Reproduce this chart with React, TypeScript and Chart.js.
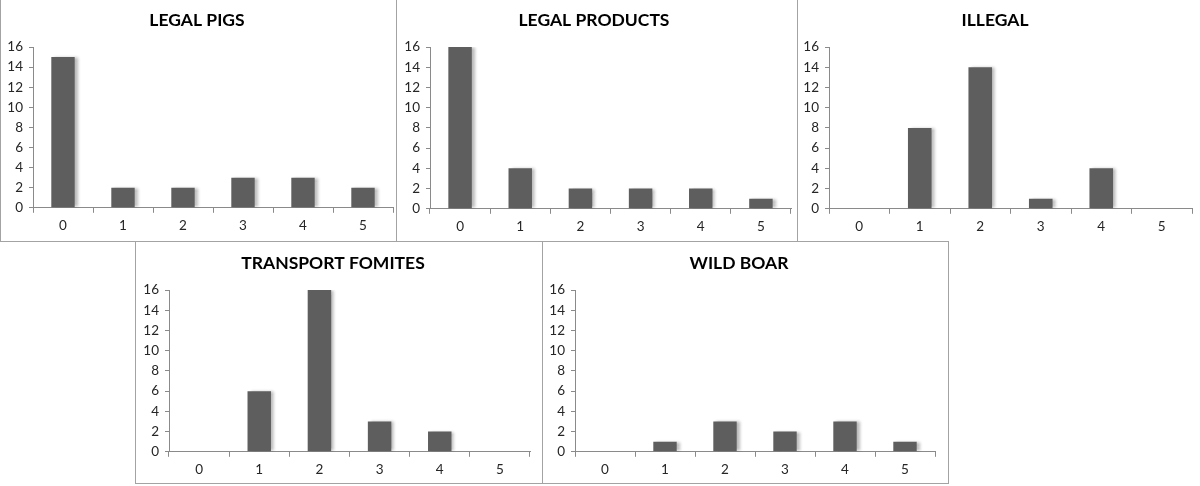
import React, { useEffect, useRef } from "react";
import { Chart, registerables } from "chart.js";

Chart.register(...registerables);

// ---- data ----
const categories = ["0", "1", "2", "3", "4", "5"];
const legalPigs = [15, 2, 2, 3, 3, 2];
const legalProducts = [16, 4, 2, 2, 2, 1];
const illegal = [0, 8, 14, 1, 4, 0];
const transportFomites = [0, 6, 16, 3, 2, 0];
const wildBoar = [0, 1, 3, 2, 3, 1];
const yMin = 0;
const yMax = 16;
const yStep = 2;

const titles = ["LEGAL PIGS", "LEGAL PRODUCTS", "ILLEGAL", "TRANSPORT FOMITES", "WILD BOAR"];
const series = [legalPigs, legalProducts, illegal, transportFomites, wildBoar];

// ---- layout (page pixel boxes) ----
type Box = {
  left: number; top: number; width: number; height: number;
  bl: boolean; br: boolean; bt: boolean; bb: boolean;
  yWidth: number; padRight: number; padBottom: number; titleTop: number;
};
const boxes: Box[] = [
  { left: 0, top: 0, width: 397, height: 242, bl: true, br: true, bt: false, bb: true, yWidth: 32, padRight: 3, padBottom: 2, titleTop: 10 },
  { left: 396, top: 0, width: 402, height: 242, bl: true, br: true, bt: false, bb: false, yWidth: 33, padRight: 6, padBottom: 2, titleTop: 10 },
  { left: 797, top: 0, width: 404, height: 242, bl: true, br: false, bt: false, bb: false, yWidth: 31, padRight: 9, padBottom: 2, titleTop: 10 },
  { left: 135, top: 241, width: 408, height: 243, bl: true, br: true, bt: true, bb: true, yWidth: 33, padRight: 12, padBottom: 0, titleTop: 11 },
  { left: 542, top: 241, width: 407, height: 243, bl: true, br: true, bt: true, bb: true, yWidth: 32, padRight: 13, padBottom: 0, titleTop: 11 },
];

const BORDER = "#a3a3a3";
const AXIS = "#8a8a8a";
const BAR = "#5e5e5e";
const FONT = "Lato, 'Open Sans', sans-serif";

const shadowPlugin = {
  id: "barShadow",
  beforeDatasetsDraw(chart: any) {
    const ctx = chart.ctx;
    ctx.save();
    ctx.shadowColor = "rgba(0,0,0,0.28)";
    ctx.shadowBlur = 3;
    ctx.shadowOffsetX = 3;
    ctx.shadowOffsetY = 0;
  },
  afterDatasetsDraw(chart: any) {
    chart.ctx.restore();
  },
};

function Panel({ idx }: { idx: number }) {
  const ref = useRef<HTMLCanvasElement | null>(null);
  const b = boxes[idx];
  const cw = b.width - (b.bl ? 1 : 0) - (b.br ? 1 : 0);
  const ch = b.height - (b.bt ? 1 : 0) - (b.bb ? 1 : 0);

  useEffect(() => {
    if (!ref.current) return;
    const tickFont = { family: FONT, size: 13.5 };
    const chart = new Chart(ref.current, {
      type: "bar",
      data: {
        labels: categories,
        datasets: [
          {
            data: series[idx],
            backgroundColor: BAR,
            borderWidth: 0,
            categoryPercentage: 1,
            barPercentage: 0.39,
          },
        ],
      },
      options: {
        responsive: false,
        maintainAspectRatio: false,
        animation: false,
        layout: { padding: { left: 0, right: b.padRight, top: 0, bottom: b.padBottom } },
        plugins: {
          legend: { display: false },
          tooltip: { enabled: false },
          title: {
            display: true,
            text: titles[idx],
            color: "#000",
            font: { family: FONT, size: 17.5, weight: "bold" },
            padding: { top: b.titleTop, bottom: 16 },
          },
        },
        scales: {
          x: {
            grid: { display: true, drawOnChartArea: false, drawTicks: true, tickLength: 5, color: AXIS, offset: true },
            border: { display: true, color: AXIS },
            ticks: { font: tickFont, color: "#262626", padding: 5, maxRotation: 0 },
          },
          y: {
            min: yMin,
            max: yMax,
            grid: { display: true, drawOnChartArea: false, drawTicks: true, tickLength: 4, color: AXIS },
            border: { display: true, color: AXIS },
            ticks: { stepSize: yStep, font: tickFont, color: "#262626", padding: 6 },
            afterFit: (s: any) => {
              s.width = b.yWidth;
            },
          },
        },
      },
      plugins: [shadowPlugin],
    } as any);
    return () => chart.destroy();
  }, [idx]);

  return (
    <div
      style={{
        position: "absolute",
        left: b.left,
        top: b.top,
        width: b.width,
        height: b.height,
        boxSizing: "border-box",
        borderLeft: b.bl ? `1px solid ${BORDER}` : "none",
        borderRight: b.br ? `1px solid ${BORDER}` : "none",
        borderTop: b.bt ? `1px solid ${BORDER}` : "none",
        borderBottom: b.bb ? `1px solid ${BORDER}` : "none",
        background: "transparent",
      }}
    >
      <canvas ref={ref} width={cw} height={ch} style={{ display: "block", width: cw, height: ch }} />
    </div>
  );
}

export default function App() {
  return (
    <div style={{ position: "absolute", left: 0, top: 0, width: 1200, height: 486, background: "#fff", overflow: "hidden" }}>
      {boxes.map((_, i) => (
        <Panel key={i} idx={i} />
      ))}
    </div>
  );
}
